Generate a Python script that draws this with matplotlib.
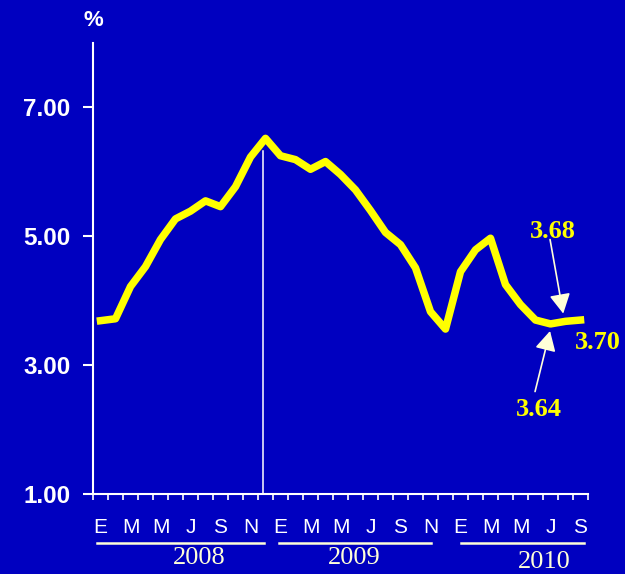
import matplotlib
matplotlib.use("Agg")
import matplotlib.pyplot as plt
import matplotlib.transforms as mtransforms

# monthly rate, Jan 2008 - Sep 2010
rate_2008 = [3.69, 3.72, 4.22, 4.53, 4.95, 5.27, 5.39, 5.55, 5.46, 5.77, 6.23, 6.52]
rate_2009 = [6.25, 6.19, 6.04, 6.16, 5.96, 5.72, 5.40, 5.06, 4.87, 4.51, 3.83, 3.56]
rate_2010 = [4.45, 4.79, 4.97, 4.25, 3.94, 3.70, 3.64, 3.68, 3.70]
rates = rate_2008 + rate_2009 + rate_2010

month_letters = ["E", "M", "M", "J", "S", "N"]
years = ["2008", "2009", "2010"]
y_ticks = [1.0, 3.0, 5.0, 7.0]

BG = "#0000C0"
CREAM = "#FFFFD8"

fig = plt.figure(figsize=(6.25, 5.74), dpi=100, facecolor=BG)
ax = fig.add_axes([93 / 625, 1 - 494 / 574, 495 / 625, 451 / 574])
ax.set_facecolor(BG)

x = list(range(len(rates)))
ax.plot(x, rates, color="#FFFF00", lw=5.4, zorder=3)

# vertical marker at the December 2008 peak
ax.plot([10.85, 10.85], [1.0, 6.33], color="white", lw=1.1, zorder=2)

ax.set_xlim(-0.5, len(rates) - 0.5)
ax.set_ylim(1, 8)

for s in ["top", "right"]:
    ax.spines[s].set_visible(False)
for s in ["left", "bottom"]:
    ax.spines[s].set_color("white")
    ax.spines[s].set_linewidth(1.5)

ax.set_yticks(y_ticks)
ax.set_yticklabels([f"{v:.2f}" for v in y_ticks])
ax.tick_params(axis="y", colors="white", length=7.2, width=1.5, pad=9,
               labelsize=17.5)
for lab in ax.get_yticklabels():
    lab.set_fontweight("bold")
    lab.set_fontfamily("Liberation Sans")

# month boundaries as major ticks, letters on every other month
ax.set_xticks([i - 0.5 for i in range(len(rates) + 1)])
ax.set_xticklabels([])
ax.tick_params(axis="x", which="major", colors="white", length=4.5, width=1.2)
label_pos = list(range(0, len(rates), 2))
ax.set_xticks(label_pos, minor=True)
ax.set_xticklabels([month_letters[(i % 12) // 2] for i in label_pos], minor=True,
                   fontsize=15, fontfamily="Liberation Sans", color="white")
ax.tick_params(axis="x", which="minor", length=0, pad=17)

ax.text(0, 1.05, "%", transform=ax.transAxes, ha="center", va="center",
        color="white", fontsize=16, fontweight="bold", fontfamily="Liberation Sans")

# year underlines and labels
trans = mtransforms.blended_transform_factory(ax.transData, ax.transAxes)
year_spans = [(-0.25, 10.9), (11.9, 22.0), (24.0, 32.2)]
year_x = [6.57, 16.9, 29.57]
year_y = [-0.142, -0.142, -0.151]
for (a, b), yx, yy, yr in zip(year_spans, year_x, year_y, years):
    ax.plot([a, b], [-0.1086, -0.1086], transform=trans, color=CREAM, lw=1.8,
            clip_on=False)
    ax.text(yx, yy, yr, transform=trans, ha="center", va="center", color=CREAM,
            fontsize=19, fontfamily="Liberation Serif")

# callouts
lab_font = dict(color="#FFFF00", fontsize=19, fontweight="bold",
                fontfamily="Liberation Serif", ha="center", va="center")
ax.text(30.17, 5.07, f"{rate_2010[7]:.2f}", **lab_font)
ax.text(33.17, 3.35, f"{rate_2010[8]:.2f}", clip_on=False, **lab_font)
ax.text(29.23, 2.31, f"{rate_2010[6]:.2f}", **lab_font)

arrow = dict(arrowstyle="-|>,head_length=0.6,head_width=0.32", color=CREAM,
             lw=1.2, shrinkA=0, shrinkB=0, mutation_scale=20)
ax.annotate("", xy=(30.85, 3.8), xytext=(29.97, 4.95), arrowprops=arrow)
ax.annotate("", xy=(29.97, 3.53), xytext=(28.97, 2.59), arrowprops=arrow)

fig.savefig("out.png", dpi=100, facecolor=BG)
